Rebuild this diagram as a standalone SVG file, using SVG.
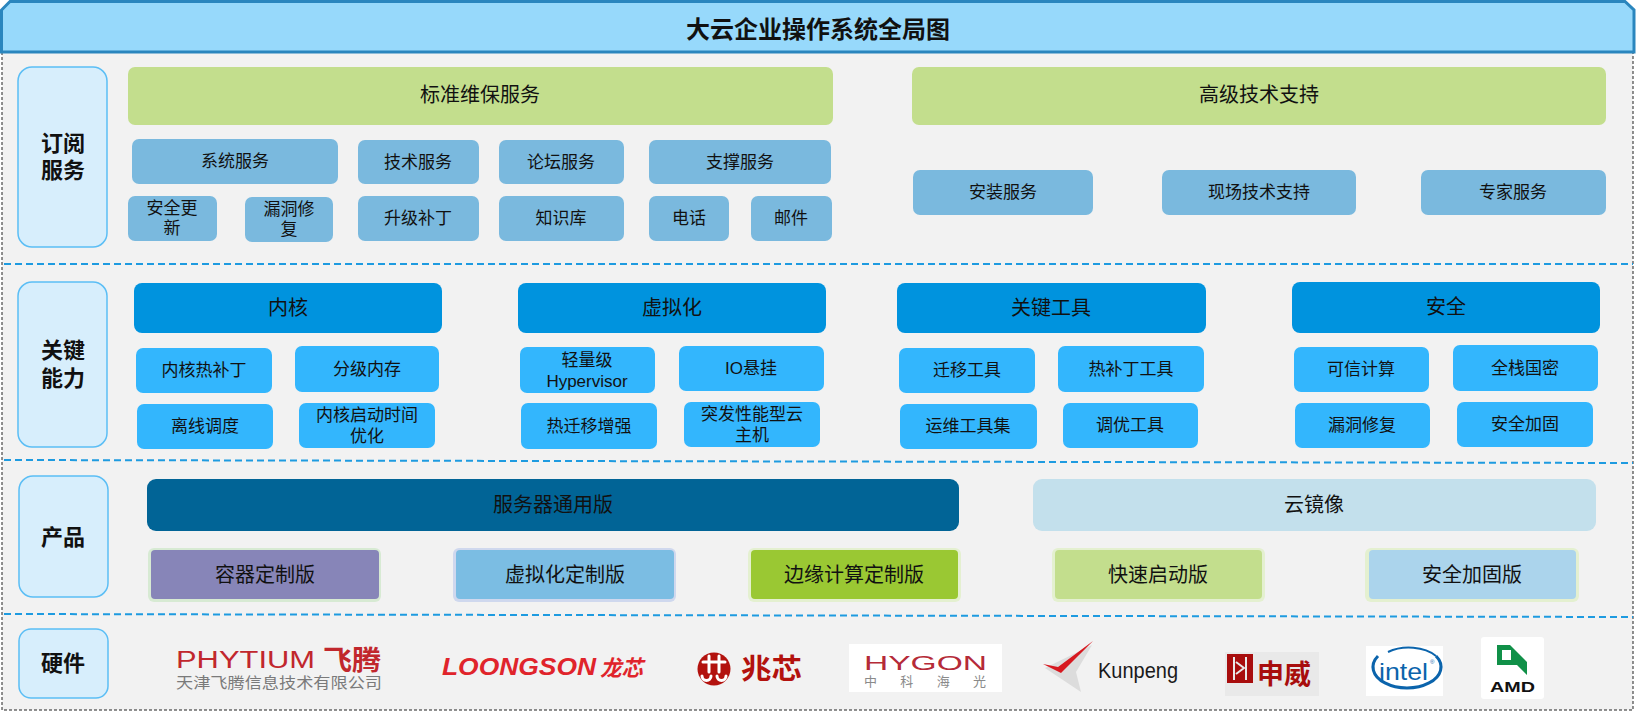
<svg xmlns="http://www.w3.org/2000/svg" width="1636" height="713" viewBox="0 0 1636 713">
<style>
text{font-family:"Liberation Sans","Noto Sans CJK SC",sans-serif;fill:#111;}
.c{text-anchor:middle;dominant-baseline:central;}
.t17{font-size:17px;}
.t20{font-size:20px;}
.lbl{font-size:22px;font-weight:700;}
.lb{fill:#D7EEFC;stroke:#5BBEF5;stroke-width:1.5;}
.gb{fill:#C3DE8D;}
.sb{fill:#7AB9DE;}
.hd{fill:#0093DE;}
.kb{fill:#33B6FD;}
.sep{stroke:#1E9BE0;stroke-width:2;stroke-dasharray:7 4;fill:none;}
</style>
<rect id="frame" x="2" y="52" width="1631" height="658" fill="#F2F2F2" stroke="#222" stroke-width="1" stroke-dasharray="3 2"/>
<g id="title">
<path d="M1.5 52 V10 L10 1.5 H1625 L1634 10 V52 Z" fill="#97D9FB" stroke="#2A86BE" stroke-width="3"/>
<text class="c" x="818" y="29" style="font-size:24px;font-weight:700">大云企业操作系统全局图</text>
</g>
<g id="separators">
<line class="sep" x1="4" y1="264" x2="1633" y2="264"/>
<line class="sep" x1="4" y1="460" x2="1633" y2="463"/>
<line class="sep" x1="4" y1="614" x2="1633" y2="617"/>
</g>
<g id="connectors"></g>

<g id="label-subscribe"><rect class="lb" x="18" y="67" width="89" height="180" rx="14"/><text class="c lbl" x="63" y="143">订阅</text><text class="c lbl" x="63" y="170">服务</text></g>
<g id="label-capability"><rect class="lb" x="18" y="282" width="89" height="165" rx="14"/><text class="c lbl" x="63" y="350">关键</text><text class="c lbl" x="63" y="378">能力</text></g>
<g id="label-product"><rect class="lb" x="19" y="476" width="89" height="121" rx="14"/><text class="c lbl" x="63" y="537">产品</text></g>
<g id="label-hardware"><rect class="lb" x="19" y="629" width="89" height="69" rx="12"/><text class="c lbl" x="63" y="663">硬件</text></g>

<g id="std-maint"><rect class="gb" x="128" y="67" width="705" height="58" rx="7"/><text class="c t20" x="480" y="95">标准维保服务</text></g>
<g id="adv-support"><rect class="gb" x="912" y="67" width="694" height="58" rx="7"/><text class="c t20" x="1259" y="95">高级技术支持</text></g>
<g id="sys-svc"><rect class="sb" x="132" y="139" width="206" height="45" rx="7"/><text class="c t17" x="235" y="161">系统服务</text></g>
<g id="tech-svc"><rect class="sb" x="358" y="140" width="121" height="44" rx="7"/><text class="c t17" x="418" y="162">技术服务</text></g>
<g id="forum-svc"><rect class="sb" x="499" y="140" width="125" height="44" rx="7"/><text class="c t17" x="561" y="162">论坛服务</text></g>
<g id="support-svc"><rect class="sb" x="649" y="140" width="182" height="44" rx="7"/><text class="c t17" x="740" y="162">支撑服务</text></g>
<g id="sec-update"><rect class="sb" x="128" y="196" width="89" height="45" rx="7"/><text class="c t17" x="172" y="208">安全更</text><text class="c t17" x="172" y="228">新</text></g>
<g id="vuln-fix"><rect class="sb" x="245" y="197" width="88" height="45" rx="7"/><text class="c t17" x="289" y="209">漏洞修</text><text class="c t17" x="289" y="229">复</text></g>
<g id="upgrade"><rect class="sb" x="358" y="196" width="121" height="45" rx="7"/><text class="c t17" x="418" y="218">升级补丁</text></g>
<g id="kb"><rect class="sb" x="499" y="196" width="125" height="45" rx="7"/><text class="c t17" x="561" y="218">知识库</text></g>
<g id="phone"><rect class="sb" x="649" y="196" width="80" height="45" rx="7"/><text class="c t17" x="689" y="218">电话</text></g>
<g id="mail"><rect class="sb" x="751" y="196" width="81" height="45" rx="7"/><text class="c t17" x="791" y="218">邮件</text></g>
<g id="install-svc"><rect class="sb" x="913" y="170" width="180" height="45" rx="7"/><text class="c t17" x="1003" y="192">安装服务</text></g>
<g id="onsite-svc"><rect class="sb" x="1162" y="170" width="194" height="45" rx="7"/><text class="c t17" x="1259" y="192">现场技术支持</text></g>
<g id="expert-svc"><rect class="sb" x="1421" y="170" width="185" height="45" rx="7"/><text class="c t17" x="1513" y="192">专家服务</text></g>

<g id="kernel"><rect class="hd" x="134" y="283" width="308" height="50" rx="8"/><text class="c t20" x="288" y="308">内核</text></g>
<g id="virt"><rect class="hd" x="518" y="283" width="308" height="50" rx="8"/><text class="c t20" x="672" y="308">虚拟化</text></g>
<g id="tools"><rect class="hd" x="897" y="283" width="309" height="50" rx="8"/><text class="c t20" x="1051" y="308">关键工具</text></g>
<g id="security"><rect class="hd" x="1292" y="282" width="308" height="51" rx="8"/><text class="c t20" x="1446" y="307">安全</text></g>

<g id="k-hotpatch"><rect class="kb" x="136" y="348" width="136" height="45" rx="7"/><text class="c t17" x="204" y="370">内核热补丁</text></g>
<g id="k-tiermem"><rect class="kb" x="295" y="346" width="144" height="46" rx="7"/><text class="c t17" x="367" y="369">分级内存</text></g>
<g id="k-offline"><rect class="kb" x="137" y="404" width="136" height="45" rx="7"/><text class="c t17" x="205" y="426">离线调度</text></g>
<g id="k-boot"><rect class="kb" x="299" y="403" width="136" height="45" rx="7"/><text class="c t17" x="367" y="415">内核启动时间</text><text class="c t17" x="367" y="436">优化</text></g>
<g id="v-light"><rect class="kb" x="520" y="347" width="135" height="46" rx="7"/><text class="c t17" x="587" y="360">轻量级</text><text class="c t17" x="587" y="381">Hypervisor</text></g>
<g id="v-io"><rect class="kb" x="679" y="346" width="145" height="45" rx="7"/><text class="c t17" x="751" y="368">IO悬挂</text></g>
<g id="v-migrate"><rect class="kb" x="521" y="403" width="136" height="46" rx="7"/><text class="c t17" x="589" y="426">热迁移增强</text></g>
<g id="v-burst"><rect class="kb" x="684" y="402" width="136" height="45" rx="7"/><text class="c t17" x="752" y="414">突发性能型云</text><text class="c t17" x="752" y="435">主机</text></g>
<g id="t-migrate"><rect class="kb" x="899" y="348" width="136" height="45" rx="7"/><text class="c t17" x="967" y="370">迁移工具</text></g>
<g id="t-hotpatch"><rect class="kb" x="1058" y="346" width="146" height="46" rx="7"/><text class="c t17" x="1131" y="369">热补丁工具</text></g>
<g id="t-ops"><rect class="kb" x="900" y="404" width="137" height="45" rx="7"/><text class="c t17" x="968" y="426">运维工具集</text></g>
<g id="t-tune"><rect class="kb" x="1063" y="403" width="135" height="45" rx="7"/><text class="c t17" x="1130" y="425">调优工具</text></g>
<g id="s-trust"><rect class="kb" x="1294" y="347" width="135" height="45" rx="7"/><text class="c t17" x="1361" y="369">可信计算</text></g>
<g id="s-crypto"><rect class="kb" x="1453" y="345" width="145" height="46" rx="7"/><text class="c t17" x="1525" y="368">全栈国密</text></g>
<g id="s-vuln"><rect class="kb" x="1295" y="403" width="135" height="45" rx="7"/><text class="c t17" x="1362" y="425">漏洞修复</text></g>
<g id="s-harden"><rect class="kb" x="1457" y="402" width="136" height="45" rx="7"/><text class="c t17" x="1525" y="424">安全加固</text></g>

<g id="server-ed"><rect x="147" y="479" width="812" height="52" rx="9" fill="#016496"/><text class="c t20" x="553" y="505">服务器通用版</text></g>
<g id="cloud-img"><rect x="1033" y="479" width="563" height="52" rx="9" fill="#C3E0EC"/><text class="c t20" x="1314" y="505">云镜像</text></g>
<g id="container-ed"><rect x="148" y="548" width="233" height="54" rx="6" fill="#D7EAD3"/><rect x="151" y="550" width="228" height="49" rx="4" fill="#8785B8"/><text class="c t20" x="265" y="575">容器定制版</text></g>
<g id="virt-ed"><rect x="453" y="548" width="223" height="54" rx="6" fill="#CFD8EE"/><rect x="456" y="550" width="218" height="49" rx="4" fill="#7BBDE3"/><text class="c t20" x="565" y="575">虚拟化定制版</text></g>
<g id="edge-ed"><rect x="748" y="548" width="213" height="54" rx="6" fill="#E4F0D0"/><rect x="751" y="550" width="207" height="49" rx="4" fill="#9AC833"/><text class="c t20" x="854" y="575">边缘计算定制版</text></g>
<g id="fastboot-ed"><rect x="1052" y="548" width="213" height="54" rx="6" fill="#E4F0D0"/><rect x="1055" y="550" width="207" height="49" rx="4" fill="#C3DE8D"/><text class="c t20" x="1158" y="575">快速启动版</text></g>
<g id="harden-ed"><rect x="1365" y="548" width="214" height="54" rx="6" fill="#E4F0D0"/><rect x="1369" y="550" width="207" height="49" rx="4" fill="#ABD4EC"/><text class="c t20" x="1472" y="575">安全加固版</text></g>

<g id="logo-phytium">
<text x="176" y="668" textLength="139" lengthAdjust="spacingAndGlyphs" style="font-size:23px;fill:#C1272D">PHYTIUM</text>
<text x="323" y="670" textLength="58" lengthAdjust="spacingAndGlyphs" style="font-size:27px;font-weight:700;fill:#C1272D">飞腾</text>
<text x="176" y="688" textLength="206" lengthAdjust="spacingAndGlyphs" style="font-size:15px;fill:#7A7A7A">天津飞腾信息技术有限公司</text>
</g>
<g id="logo-loongson">
<text x="442" y="675" textLength="154" lengthAdjust="spacingAndGlyphs" style="font-size:24px;font-weight:700;font-style:italic;fill:#E0242B">LOONGSON</text>
<text x="600" y="676" textLength="43" lengthAdjust="spacingAndGlyphs" style="font-size:22px;font-weight:700;font-style:italic;fill:#E0242B">龙芯</text>
</g>
<g id="logo-zhaoxin">
<circle cx="714" cy="669" r="16.5" fill="#B3120E"/>
<path d="M703 662 H725 M709 656 V672 M719 656 V672 M702 676 a4.5 4.5 0 0 0 9 0 M717 676 a4.5 4.5 0 0 0 9 0" stroke="#fff" stroke-width="3" fill="none" stroke-linecap="round"/>
<text x="741" y="679" textLength="61" lengthAdjust="spacingAndGlyphs" style="font-size:28px;font-weight:700;fill:#B3120E">兆芯</text>
</g>
<g id="logo-hygon">
<rect x="849" y="644" width="153" height="48" fill="#fff"/>
<text x="864" y="670" textLength="123" lengthAdjust="spacingAndGlyphs" style="font-size:21px;fill:#B52B38">HYGON</text>
<text x="864" y="686" textLength="122" lengthAdjust="spacing" style="font-size:13px;fill:#8A8A8A">中科海光</text>
</g>
<g id="logo-kunpeng">
<path d="M1045 668 L1092 645 L1076 672 L1081 692 Z" fill="#DCDCDC"/>
<path d="M1043 664 L1058 667 L1093 641 L1079 655 L1061 673 Z" fill="#D71920"/>
<text x="1098" y="678" textLength="80" lengthAdjust="spacingAndGlyphs" style="font-size:22px;fill:#1A1A1A">Kunpeng</text>
</g>
<g id="logo-sunway">
<rect x="1225" y="652" width="94" height="44" fill="#E9E9E9"/>
<rect x="1227" y="654" width="26" height="29" fill="#A80D0D"/>
<path d="M1234 657 V680 M1246 657 V680 M1236 662 L1244 668 L1236 674" stroke="#E9E9E9" stroke-width="2" fill="none"/>
<text x="1257" y="684" textLength="54" lengthAdjust="spacingAndGlyphs" style="font-size:27px;font-weight:700;fill:#A80D0D">申威</text>
</g>
<g id="logo-intel">
<rect x="1366" y="646" width="77" height="50" fill="#fff"/>
<path d="M1378 656 A34 21 0 1 0 1436 656" stroke="#0B64AC" stroke-width="3" fill="none"/>
<path d="M1388 652 A34 21 0 0 1 1436 656" stroke="#0B64AC" stroke-width="2" fill="none"/>
<text x="1379" y="680" textLength="49" lengthAdjust="spacingAndGlyphs" style="font-size:24px;fill:#0B64AC">intel</text>
<text x="1430" y="664" style="font-size:6px;fill:#0B64AC">®</text>
</g>
<g id="logo-amd">
<rect x="1481" y="637" width="63" height="62" rx="3" fill="#fff"/>
<path d="M1497 645 H1510 L1527 662 V675 L1517 665 H1497 Z" fill="#109048"/>
<rect x="1502" y="650" width="9" height="10" fill="#fff"/>
<text x="1490" y="692" textLength="45" lengthAdjust="spacingAndGlyphs" style="font-size:15px;font-weight:700;fill:#111">AMD</text>
</g>
</svg>
